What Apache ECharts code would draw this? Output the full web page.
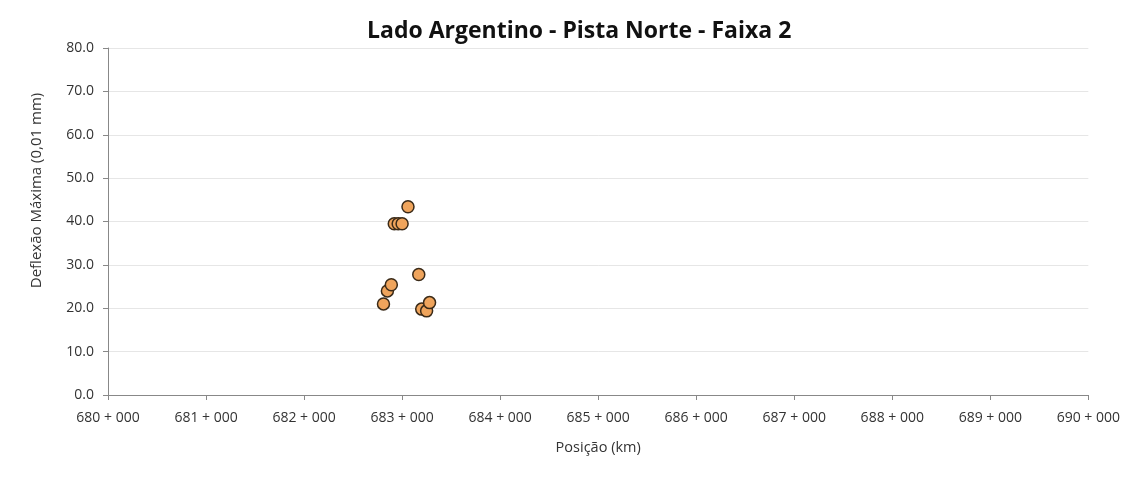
<!DOCTYPE html>
<html><head><meta charset="utf-8">
<script src="https://cdn.jsdelivr.net/npm/echarts@6/dist/echarts.min.js"></script>
<style>html,body{margin:0;padding:0;background:#fff}#c{width:1123px;height:483px}</style>
</head><body><div id="c"></div>
<script>
var titleText = 'Lado Argentino - Pista Norte - Faixa 2';
var xName = 'Posição (km)';
var yName = 'Deflexão Máxima (0,01 mm)';
var positionsKm = [682.81, 682.85, 682.89, 682.92, 682.96, 683.00, 683.06, 683.17, 683.20, 683.25, 683.28];
var deflections = [21.0, 24.0, 25.4, 39.5, 39.5, 39.5, 43.4, 27.8, 19.8, 19.4, 21.3];
var xTicks = [680, 681, 682, 683, 684, 685, 686, 687, 688, 689, 690];
var yTicks = [0, 10, 20, 30, 40, 50, 60, 70, 80];

var font = '"Open Sans", "Noto Sans", sans-serif';
var chart = echarts.init(document.getElementById('c'));
chart.setOption({
  animation: false,
  title: { text: titleText, left: 362, top: 15, textStyle: { fontFamily: font, fontWeight: 'bold', fontSize: 23, color: '#111' } },
  grid: { left: 108, right: 34, top: 48, bottom: 88 },
  xAxis: {
    type: 'value', min: xTicks[0], max: xTicks[xTicks.length - 1], interval: 1,
    name: xName, nameLocation: 'middle', nameGap: 45,
    nameTextStyle: { fontFamily: font, fontSize: 14.5, color: '#333' },
    axisLine: { show: true, lineStyle: { color: '#888' } },
    axisTick: { show: true, length: 5, lineStyle: { color: '#888' } },
    splitLine: { show: false },
    axisLabel: { fontFamily: font, fontSize: 14, color: '#333', margin: 16,
      formatter: function (v) { return Math.round(v) + ' + 000'; } }
  },
  yAxis: {
    type: 'value', min: yTicks[0], max: yTicks[yTicks.length - 1], interval: 10,
    name: yName, nameLocation: 'middle', nameGap: 64, nameRotate: 90,
    nameTextStyle: { fontFamily: font, fontSize: 15, color: '#333', padding: [0, 0, 0, 62] },
    axisLine: { show: true, lineStyle: { color: '#888' } },
    axisTick: { show: true, length: 5, lineStyle: { color: '#888' } },
    splitLine: { show: true, lineStyle: { color: '#e6e6e6' } },
    axisLabel: { fontFamily: font, fontSize: 14, color: '#333', margin: 14,
      formatter: function (v) { return v.toFixed(1); } }
  },
  series: [{
    type: 'scatter', symbol: 'circle', symbolSize: 12,
    data: positionsKm.map(function (x, i) { return [x, deflections[i]]; }),
    itemStyle: { color: '#EFA45C', borderColor: '#3a2a18', borderWidth: 1.5, opacity: 1 }
  }]
});
</script></body></html>
